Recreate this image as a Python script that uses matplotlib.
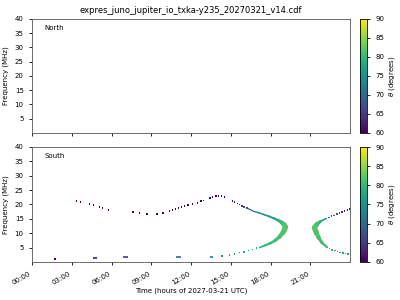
import numpy as np
import matplotlib
matplotlib.use("Agg")
import matplotlib.pyplot as plt
from matplotlib.collections import LineCollection

# Datos (hora, frecuencia MHz, theta en grados)
titulo = "expres_juno_jupiter_io_txka-y235_20270321_v14.cdf"
etiquetas_x = ["00:00", "03:00", "06:00", "09:00", "12:00", "15:00", "18:00", "21:00"]

# Arco superior punteado (purpura)
arco_t = [3.35, 3.65, 4.33, 4.64, 5.09, 5.32, 5.77, 7.61, 8.11, 8.67, 9.42, 9.88,
          10.38, 10.61, 10.83, 11.06, 11.28, 11.51, 11.77, 12.12, 12.5, 12.77, 12.95,
          13.45, 13.63, 13.88, 14.08, 14.29, 14.53, 15.14, 15.29, 15.51, 15.66, 15.84,
          15.99, 16.23]
arco_f = [21.3, 20.9, 20.2, 19.8, 19.2, 18.8, 18.1, 17.4, 17.1, 16.7, 16.7, 17.1,
          17.8, 18.1, 18.5, 18.8, 19.2, 19.5, 19.8, 20.2, 20.5, 21.1, 21.4,
          22.3, 22.6, 23.0, 23.0, 23.0, 22.6, 21.3, 20.9, 20.3, 20.0, 19.5,
          19.2, 18.7]
arco_th = [60] * 29 + [61, 62, 63, 64, 65, 66, 67]

# Rama inferior izquierda punteada
baja_t = [14.36, 14.91, 15.29, 15.67, 16.02, 16.35, 16.65, 16.93, 17.18]
baja_f = [2.1, 2.5, 2.8, 3.2, 3.5, 4.0, 4.3, 4.8, 5.0]
baja_th = [75, 76, 77, 77, 78, 78, 79, 79, 79]

# Nariz izquierda (continua): rama alta -> nariz -> rama baja
nariz1_t = [16.23, 16.48, 16.73, 17.11, 17.49, 17.86, 18.24, 18.57, 18.82, 19.02, 19.12,
            19.07, 18.92, 18.67, 18.37, 17.99, 17.56, 17.18]
nariz1_f = [18.7, 18.2, 17.6, 17.1, 16.5, 15.9, 15.2, 14.5, 13.8, 13.0, 12.2,
            11.3, 10.1, 8.7, 7.5, 6.5, 5.7, 5.0]
nariz1_th = [68, 70, 72, 74, 75, 76, 77, 79, 80, 81, 82,
             82, 82, 81, 81, 80, 80, 79]

# Nariz derecha (continua)
nariz2_t = [22.15, 21.77, 21.52, 21.31, 21.47, 21.64, 21.9, 22.27]
nariz2_f = [15.0, 14.1, 13.2, 11.9, 10.1, 8.4, 6.6, 5.1]
nariz2_th = [75, 78, 80, 82, 82, 81, 81, 80]

# Ramas derechas punteadas
der_alta_t = [22.2, 22.4, 22.6, 22.8, 23.0, 23.2, 23.4, 23.6, 23.8, 24.0]
der_alta_f = [15.1, 15.5, 15.9, 16.2, 16.6, 17.0, 17.3, 17.7, 18.1, 18.5]
der_alta_th = [74, 72, 70, 69, 67, 66, 64, 63, 62, 61]
der_baja_t = [22.45, 22.65, 22.85, 23.05, 23.25, 23.45, 23.65, 23.85]
der_baja_f = [4.6, 4.2, 3.9, 3.6, 3.3, 3.1, 2.9, 2.7]
der_baja_th = [80, 80, 79, 79, 79, 78, 78, 78]

# Emisiones cortas a baja frecuencia
punto_t = [1.76]
punto_f = [1.08]
punto_th = [60]
tramo_ini = [4.63, 6.88, 10.88, 13.45]
tramo_fin = [4.89, 7.23, 11.24, 13.66]
tramo_f = [1.4, 1.77, 1.77, 1.77]
tramo_th = [62, 65, 70, 72]

cmap = plt.get_cmap("viridis")
norm = plt.Normalize(60, 90)

fig = plt.figure(figsize=(4, 3), dpi=100)
ax_n = fig.add_axes([0.08, 0.557, 0.795, 0.38])
ax_s = fig.add_axes([0.08, 0.127, 0.795, 0.383])
cb_n = fig.add_axes([0.9, 0.557, 0.0175, 0.38])
cb_s = fig.add_axes([0.9, 0.127, 0.0175, 0.383])

fs = 5
for ax, nombre in [(ax_n, "North"), (ax_s, "South")]:
    ax.set_xlim(0, 24)
    ax.set_ylim(0, 40)
    ax.set_yticks([5, 10, 15, 20, 25, 30, 35, 40])
    ax.set_xticks(np.arange(0, 24, 3))
    ax.tick_params(labelsize=fs, length=2.5, width=0.6)
    ax.set_ylabel("Frequency (MHz)", fontsize=fs)
    ax.text(0.04, 0.9, nombre, transform=ax.transAxes, fontsize=fs)
    for s in ax.spines.values():
        s.set_linewidth(0.6)
        s.set_color("#555555")

ax_n.set_xticklabels([])
ax_s.set_xticklabels(etiquetas_x, rotation=30, ha="right")
ax_s.set_xlabel("Time (hours of 2027-03-21 UTC)", fontsize=fs, labelpad=1)
ax_n.set_title(titulo, fontsize=6, pad=4)

# Puntos dispersos
for t, f, th in [(arco_t, arco_f, arco_th), (baja_t, baja_f, baja_th),
                 (der_alta_t, der_alta_f, der_alta_th),
                 (der_baja_t, der_baja_f, der_baja_th),
                 (punto_t, punto_f, punto_th)]:
    ax_s.scatter(t, f, c=th, cmap=cmap, norm=norm, marker="s", s=1.3,
                 linewidths=0)

# Tramos cortos
for t0, t1, f, th in zip(tramo_ini, tramo_fin, tramo_f, tramo_th):
    ax_s.plot([t0, t1], [f, f], color=cmap(norm(th)), lw=1.2,
              solid_capstyle="butt")

# Narices continuas con grosor variable
def nariz(t, f, th, anchos):
    pts = np.column_stack([t, f]).reshape(-1, 1, 2)
    seg = np.concatenate([pts[:-1], pts[1:]], axis=1)
    col = [(a + b) / 2 for a, b in zip(th[:-1], th[1:])]
    lc = LineCollection(seg, cmap=cmap, norm=norm, linewidths=anchos,
                        capstyle="round")
    lc.set_array(np.array(col))
    ax_s.add_collection(lc)

nariz(nariz1_t, nariz1_f, nariz1_th,
      [0.9, 0.9, 1.0, 1.1, 1.2, 1.4, 1.7, 2.2, 2.9, 3.6, 3.8,
       3.6, 3.0, 2.4, 1.9, 1.5, 1.2])
nariz(nariz2_t, nariz2_f, nariz2_th,
      [1.2, 2.2, 3.4, 3.8, 3.2, 2.3, 1.6])

for cax in (cb_n, cb_s):
    cb = fig.colorbar(plt.cm.ScalarMappable(norm=norm, cmap=cmap), cax=cax)
    cb.set_ticks([60, 65, 70, 75, 80, 85, 90])
    cb.ax.tick_params(labelsize=fs, length=2.5, width=0.6)
    cb.set_label(r"$\theta$ (degrees)", fontsize=fs, labelpad=2)
    cb.outline.set_linewidth(0.6)

fig.savefig("out.png", dpi=100)
